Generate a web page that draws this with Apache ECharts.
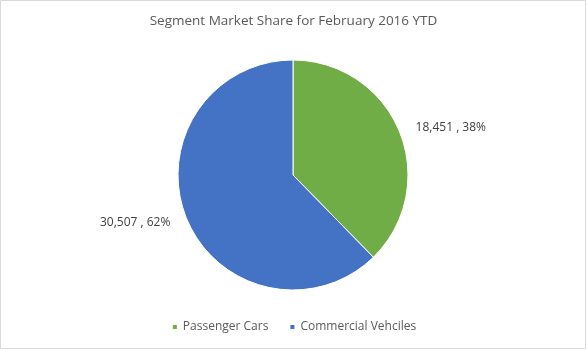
<!DOCTYPE html>
<html><head><meta charset="utf-8">
<script src="https://cdn.jsdelivr.net/npm/echarts@6/dist/echarts.min.js"></script>
<style>html,body{margin:0;padding:0;background:#fff}#c{width:587px;height:350px}</style>
</head><body><div id="c"></div>
<script>
const categories = ["Passenger Cars", "Commercial Vehciles"];
const values = [18451, 30507];
const colors = ["#70AD47", "#4472C4"];
const titleText = "Segment Market Share for February 2016 YTD";

const total = values.reduce((a, b) => a + b, 0);
const chart = echarts.init(document.getElementById('c'));
chart.setOption({
  animation: false,
  graphic: [{type: 'rect', shape: {x: 0.5, y: 0.5, width: 585, height: 348}, style: {fill: 'none', stroke: '#D9D9D9', lineWidth: 1}}],
  title: {text: titleText, left: 'center', top: 9, textStyle: {fontFamily: 'Open Sans', fontSize: 13.5, fontWeight: 'normal', color: '#595959'}},
  legend: {bottom: 12, left: 'center', icon: 'rect', itemWidth: 6, itemHeight: 6, itemGap: 20,
    textStyle: {fontFamily: 'Open Sans', fontSize: 12, color: '#595959'}, data: categories},
  series: [{
    type: 'pie', center: [293, 175], radius: 115, startAngle: 90, clockwise: true,
    data: categories.map((n, i) => ({name: n, value: values[i], itemStyle: {color: colors[i]}})),
    itemStyle: {borderColor: '#fff', borderWidth: 1},
    label: {show: true, position: 'outside', fontFamily: 'Open Sans', fontSize: 12, color: '#404040',
      formatter: p => p.value.toLocaleString('en-US') + ' , ' + Math.round(p.value / total * 100) + '%'},
    labelLine: {show: false, length: 12, length2: 0}
  }]
});
</script></body></html>
